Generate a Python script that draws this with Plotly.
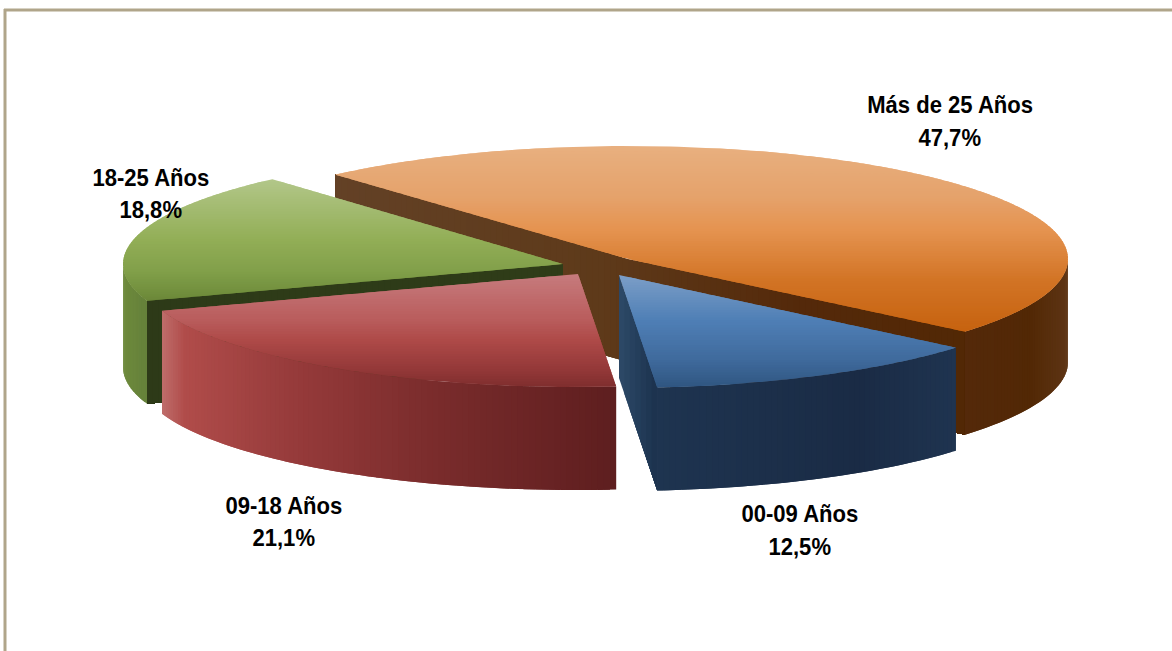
import math
import numpy as np
import plotly.graph_objects as go

# ---- data ----
categories = ["Más de 25 Años", "00-09 Años", "09-18 Años", "18-25 Años"]
values = [47.7, 12.5, 21.1, 18.8]
value_labels = ["47,7%", "12,5%", "21,1%", "18,8%"]

# ---- style / layout ----
START_ANGLE = -41.7
RX, RY, DEPTH = 440, 113, 103
CENTERS = [(628, 259), (619, 275), (578, 274), (563, 264)]
LABEL_POS = [(950, 104, 137), (800, 513, 546), (284, 505, 537), (151, 177, 209)]
TOP_STOPS = [
    [(145, "#E8B080"), (197, "#E5A26B"), (230, "#E59350"), (280, "#D27425"), (332, "#C6620F")],
    [(274, "#7D9FC8"), (320, "#4F7FB6"), (360, "#3F6A9C"), (388, "#2F5580")],
    [(276, "#C67A7C"), (320, "#B95C5C"), (340, "#AE4A48"), (370, "#933838"), (390, "#7C2C2C")],
    [(178, "#B3C78A"), (240, "#92AE56"), (270, "#82A04A"), (301, "#6B8738")],
]
SIDE_STOPS = [
    [(960, "#54290A"), (1030, "#522805"), (1068, "#5E3515")],
    [(657, "#1E3450"), (860, "#1A2B45"), (956, "#1F3450")],
    [(163, "#BE6C6A"), (185, "#B04C4A"), (300, "#953A3A"), (433, "#7A2C2C"), (615, "#5E1E1F")],
    [(123, "#6E8A3C"), (148, "#64803A")],
]
FACE_STOPS = [
    [(330, "#634126"), (600, "#5E3A1A"), (800, "#54290A"), (970, "#522805")],
    [(619, "#2D4A68"), (658, "#1B314D")],
    [(160, "#5E1E1F"), (620, "#5E1E1F")],
    [(148, "#2D3A18"), (563, "#2F3C18")],
]
FRAME = "#B0A58A"
FONT = "Liberation Sans"
FONT_SIZE = 24.5
TEXT_SQUEEZE = 0.9


def hex2rgb(h):
    return np.array([int(h[i:i + 2], 16) for i in (1, 3, 5)], float)


def ramp(stops, t):
    ts = [s[0] for s in stops]
    cs = np.array([hex2rgb(s[1]) for s in stops])
    c = [np.interp(t, ts, cs[:, i]) for i in range(3)]
    return "rgb(%d,%d,%d)" % tuple(round(v) for v in c)


def rim(c, deg, drop=0):
    t = math.radians(deg)
    return c[0] + RX * math.sin(t), c[1] - RY * math.cos(t) + drop


def poly(fig, xs, ys, col):
    fig.add_trace(go.Scatter(x=list(xs) + [xs[0]], y=list(ys) + [ys[0]], mode="lines",
                             fill="toself", fillcolor=col, line=dict(color=col, width=0),
                             hoverinfo="skip", showlegend=False))


def clip_y(pts, lo, hi):
    def clip(points, inside, cross):
        out = []
        for i, p in enumerate(points):
            q = points[i - 1]
            if inside(p):
                if not inside(q):
                    out.append(cross(q, p))
                out.append(p)
            elif inside(q):
                out.append(cross(q, p))
        return out

    def at(level):
        return lambda a, b: (a[0] + (b[0] - a[0]) * (level - a[1]) / (b[1] - a[1]), level)

    res = clip(pts, lambda p: p[1] >= lo, at(lo))
    if res:
        res = clip(res, lambda p: p[1] <= hi, at(hi))
    return res


def radial_face(fig, c, deg, stops):
    end = rim(c, deg)
    n = max(2, int(abs(end[0] - c[0]) / 6) + 1)
    for i in range(n):
        # each strip reaches to the far end so the next one paints over its seam
        f0 = i / n
        x0, y0 = c[0] + (end[0] - c[0]) * f0, c[1] + (end[1] - c[1]) * f0
        xm = c[0] + (end[0] - c[0]) * (i + 0.5) / n
        poly(fig, [x0, end[0], end[0], x0], [y0, end[1], end[1] + DEPTH, y0 + DEPTH], ramp(stops, xm))


fig = go.Figure()
angle = START_ANGLE
spans = []
for v in values:
    spans.append((angle, angle + v * 3.6))
    angle += v * 3.6

for idx in [0, 3, 2, 1]:
    c = CENTERS[idx]
    a0, a1 = spans[idx]
    # cut faces that turn toward the viewer
    if math.sin(math.radians(a0)) < 0:
        radial_face(fig, c, a0, FACE_STOPS[idx])
    if math.sin(math.radians(a1)) > 0:
        radial_face(fig, c, a1, FACE_STOPS[idx])
    # outer wall (front half of the rim only); painter's order hides the seams
    for shift in (0, 360, -360):
        lo, hi = max(a0 + shift, 90), min(a1 + shift, 270)
        if lo < hi:
            n = max(1, int((hi - lo) / 0.8))
            for i in range(n):
                t0 = lo + (hi - lo) * i / n
                t1 = lo + (hi - lo) * (i + 1) / n
                t2 = min(hi, t1 + 0.8)
                pts = [rim(c, t0 + (t2 - t0) * k / 3) for k in range(4)]
                xs = [p[0] for p in pts] + [p[0] for p in reversed(pts)]
                ys = [p[1] for p in pts] + [p[1] + DEPTH for p in reversed(pts)]
                poly(fig, xs, ys, ramp(SIDE_STOPS[idx], (rim(c, t0)[0] + rim(c, t1)[0]) / 2))
    # top surface, vertical gradient in thin overlapping bands
    outline = [c] + [rim(c, a0 + (a1 - a0) * i / 160) for i in range(161)]
    ymin, ymax = min(p[1] for p in outline), max(p[1] for p in outline)
    y = ymin
    while y < ymax:
        part = clip_y(outline, y, y + 4.5)
        if len(part) >= 3:
            poly(fig, [p[0] for p in part], [p[1] for p in part], ramp(TOP_STOPS[idx], y + 1.25))
        y += 2.5

annotations = []
for name, val, (x, y1, y2) in zip(categories, value_labels, LABEL_POS):
    for txt, y in ((name, y1), (val, y2)):
        annotations.append(dict(x=x, y=y, text=txt, showarrow=False,
                                xanchor="center", yanchor="middle",
                                font=dict(family=FONT, size=FONT_SIZE, color="#000000", weight=700)))

fig.update_layout(
    width=1172, height=651, autosize=False,
    margin=dict(l=0, r=0, t=0, b=0),
    paper_bgcolor="#FFFFFF", plot_bgcolor="#FFFFFF",
    xaxis=dict(range=[0, 1172], visible=False, fixedrange=True),
    yaxis=dict(range=[651, 0], visible=False, fixedrange=True),
    annotations=annotations,
    shapes=[
        dict(type="line", x0=4, x1=1172, y0=10, y1=10, line=dict(color=FRAME, width=3)),
        dict(type="line", x0=5, x1=5, y0=9, y1=651, line=dict(color=FRAME, width=3)),
    ],
)
squeeze_js = (
    "document.body.style.margin='0';document.body.style.overflow='hidden';"
    "document.querySelectorAll('.annotation-text').forEach(function(t){"
    "var w=t.getComputedTextLength();"
    "t.setAttribute('lengthAdjust','spacingAndGlyphs');"
    "t.setAttribute('textLength',w*%s);});" % TEXT_SQUEEZE
)
fig.write_html("out.html", config={"displayModeBar": False}, post_script=squeeze_js)
